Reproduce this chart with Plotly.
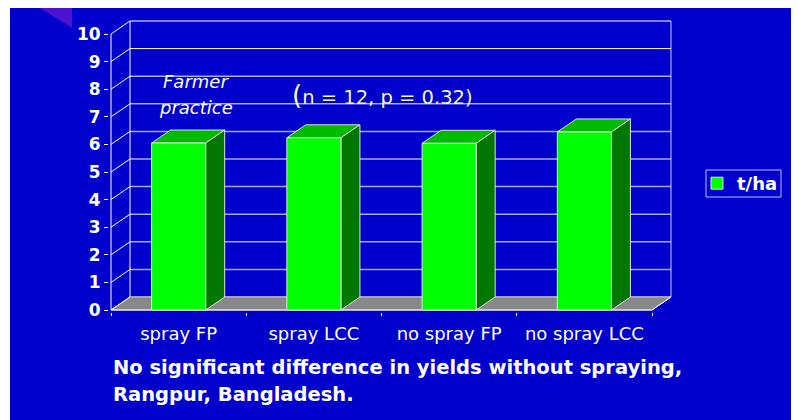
import plotly.graph_objects as go

# ---------------- data ----------------
categories = ["spray FP", "spray LCC", "no spray FP", "no spray LCC"]
yields = [6.05, 6.24, 6.04, 6.45]
y_ticks = list(range(0, 11))
series_name = "t/ha"
note_lines = ["Farmer", "practice"]
stats_note = "(n = 12, p = 0.32)"
caption_lines = ["No significant difference in yields without spraying,",
                 "Rangpur, Bangladesh."]

# ---------------- geometry (screen px; page body adds an 8px offset) ----------------
OFF = 8
SW, SH = 799, 420
W, H = SW, SH - OFF
PL, PR, PT, PB = 109, 673, 19, 312      # plot area (screen px)
X0, Y0 = 111, 310                       # screen px of x=-0.5 and y=0
KX, KY = 135.25, 27.6                   # px per unit
DX, DY = 19 / KX, 13 / KY               # 3-D depth offset in data units
BW = 0.4                                # bar width (category units)

xr = [-0.5 - (X0 - PL) / KX, -0.5 + (PR - X0) / KX]
yr = [-(PB - Y0) / KY, (Y0 - PT) / KY]


def px(x):
    return (x - PL) / (PR - PL)


def py(y):
    return (PB - y) / (PB - PT)


BG = "#0000cc"
xa, xb = -0.5, len(categories) - 0.5
ymax = max(y_ticks)

shapes = []


def line(x0, y0, x1, y1, color="white", width=1):
    shapes.append(dict(type="line", xref="x", yref="y", x0=x0, y0=y0, x1=x1, y1=y1,
                       line=dict(color=color, width=width), layer="below"))


def poly(pts, fill, lcolor="#e0e0e0", lwidth=1):
    path = "M " + " L ".join(f"{x},{y}" for x, y in pts) + " Z"
    shapes.append(dict(type="path", xref="x", yref="y", path=path, fillcolor=fill,
                       line=dict(color=lcolor, width=lwidth), layer="below"))


# back wall gridlines
for v in y_ticks:
    c = "white" if v >= 7 else "#a8a8f0"
    w = 1 if v >= 7 else 1.5
    line(xa + DX, v + DY, xb + DX, v + DY, c, w)
# back wall edges
line(xa + DX, DY, xa + DX, ymax + DY, "white")
line(xb + DX, DY, xb + DX, ymax + DY, "#c8c8f8")

# mask behind "Farmer practice"
shapes.append(dict(type="rect", xref="paper", yref="paper",
                   x0=px(142), x1=px(248), y0=py(118), y1=py(66),
                   fillcolor=BG, line=dict(width=0), layer="below"))

# floor
poly([(xa, 0), (xb, 0), (xb + DX, DY), (xa + DX, DY)], "#888888", "#c0c0c0", 1)

# side wall diagonals
for v in y_ticks:
    line(xa, v, xa + DX, v + DY, "white")

# bar tops and sides
for i, v in enumerate(yields):
    l, r = i - BW / 2, i + BW / 2
    poly([(l, v), (r, v), (r + DX, v + DY), (l + DX, v + DY)], "#00bb00")
    poly([(r, 0), (r, v), (r + DX, v + DY), (r + DX, DY)], "#007700")

# front axis lines
line(xa, 0, xa, ymax, "white")
line(xa, 0, xb, 0, "white")
line(xb, 0, xb + DX, DY, "white")

# white frame strip and corner decoration
shapes.append(dict(type="rect", xref="paper", yref="paper", x0=px(OFF), x1=px(10),
                   y0=py(SH), y1=py(0), fillcolor="white", line=dict(width=0), layer="below"))
shapes.append(dict(type="path", xref="paper", yref="paper",
                   path=f"M {px(40)},{py(8)} L {px(72)},{py(8)} L {px(72)},{py(28)} Z",
                   fillcolor="rgba(170,40,210,0.45)", line=dict(width=0), layer="below"))
# legend frame
shapes.append(dict(type="rect", xref="paper", yref="paper", x0=px(706), x1=px(781),
                   y0=py(197), y1=py(170), fillcolor="rgba(0,0,0,0)",
                   line=dict(color="#b8b8ff", width=1), layer="above"))

fig = go.Figure()
fig.add_trace(go.Bar(
    x=list(range(len(categories))), y=yields, width=BW, name=series_name,
    marker=dict(color="#00ff00", line=dict(color="#e0e0e0", width=1)),
    showlegend=True, hoverinfo="skip"))

annotations = []
for k, txt in enumerate(note_lines):
    annotations.append(dict(xref="paper", yref="paper", x=px(196), y=py(81 + 26 * k),
                            xanchor="center", yanchor="middle", text=f"<i>{txt}</i>",
                            showarrow=False, font=dict(family="DejaVu Sans", size=18, color="white")))
annotations.append(dict(xref="paper", yref="paper", x=px(382), y=py(95), xanchor="center", yanchor="middle",
                        text="<span style='font-size:26px'>" + stats_note[0] + "</span>" + stats_note[1:],
                        showarrow=False, font=dict(family="DejaVu Sans", size=19.5, color="#f4f4b8")))
for k, txt in enumerate(caption_lines):
    annotations.append(dict(xref="paper", yref="paper", x=px(111), y=py(367 + 27 * k),
                            xanchor="left", yanchor="middle", text=f"<b>{txt}</b>", showarrow=False,
                            font=dict(family="DejaVu Sans", size=19.5, color="white")))

fig.update_layout(
    width=W, height=H,
    margin=dict(l=PL - OFF, r=(OFF + W) - PR, t=PT - OFF, b=SH - PB, pad=0),
    paper_bgcolor=BG, plot_bgcolor=BG,
    shapes=shapes, annotations=annotations,
    showlegend=True,
    legend=dict(x=px(697), y=py(183.5), xanchor="left", yanchor="middle",
                bgcolor="rgba(0,0,0,0)", borderwidth=0,
                font=dict(family="DejaVu Sans", size=18, color="white", weight="bold"),
                itemwidth=30),
    xaxis=dict(range=xr, tickmode="array", tickvals=list(range(len(categories))), ticktext=categories,
               ticks="outside", ticklen=5, tickcolor="rgba(0,0,0,0)",
               showgrid=False, zeroline=False, showline=False, fixedrange=True,
               tickfont=dict(family="DejaVu Sans", size=18, color="white"),
               minor=dict(tickmode="array", tickvals=[i - 0.5 for i in range(len(categories) + 1)],
                          ticks="outside", ticklen=3, tickcolor="white", tickwidth=1, showgrid=False)),
    yaxis=dict(range=yr, tickmode="array", tickvals=y_ticks, ticktext=[str(t) for t in y_ticks],
               ticks="outside", ticklen=4, tickcolor="white", tickwidth=1,
               showgrid=False, zeroline=False, showline=False, fixedrange=True,
               tickfont=dict(family="DejaVu Sans", size=17, color="white", weight="bold")),
)

fig.write_html("out.html")
